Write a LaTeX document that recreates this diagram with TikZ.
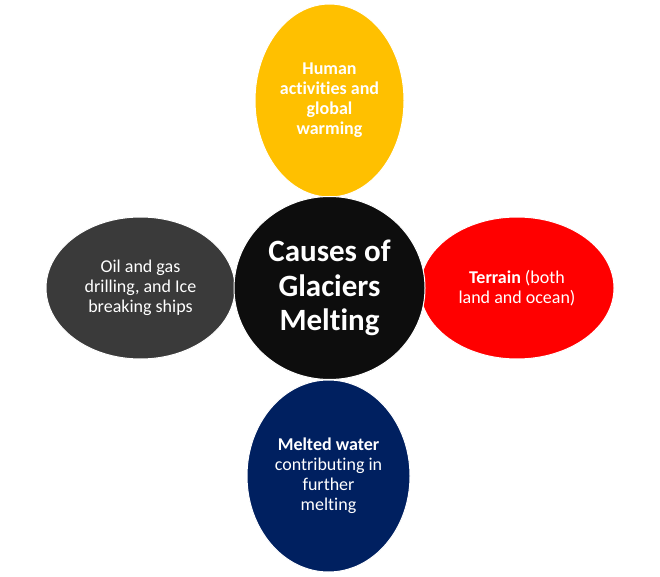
\documentclass[tikz,border=0pt]{standalone}
\usepackage{fontspec}
\setmainfont{Carlito}[Ligatures=NoCommon]
\usetikzlibrary{shapes.geometric}
\definecolor{cyellow}{HTML}{FFC000}
\definecolor{cblack}{HTML}{0D0D0D}
\definecolor{cgray}{HTML}{3A3A3A}
\definecolor{cred}{HTML}{FF0000}
\definecolor{cnavy}{HTML}{002060}
\tikzset{
  blob/.style={ellipse, draw=white, line width=1pt, inner sep=0pt, text=white, align=center},
  small/.style={font=\fontsize{18}{20}\selectfont},
  big/.style={font=\bfseries\fontsize{31}{34.5}\selectfont},
}
\begin{document}
\begin{tikzpicture}[x=1pt,y=-1pt]
\useasboundingbox (0,0) rectangle (660,577);
\node[blob, small, fill=cyellow, minimum width=149pt, minimum height=193pt] (top) at (329.5,100.5)
  {\bfseries Human\\\bfseries activities and\\\bfseries global\\\bfseries warming};
\node[blob, small, fill=cgray, minimum width=189pt, minimum height=142pt] (left) at (140.5,288)
  {Oil and gas\\drilling, and Ice\\breaking ships};
\node[blob, small, fill=cred, minimum width=194pt, minimum height=142pt] (right) at (517,288)
  {\textbf{Terrain} (both\\land and ocean)};
\node[blob, small, fill=cnavy, minimum width=163pt, minimum height=192pt] (bottom) at (328.5,476)
  {\textbf{Melted water}\\contributing in\\further\\melting};
\node[blob, big, fill=cblack, minimum width=191pt, minimum height=183pt] (center) at (329.5,288)
  {Causes of\\Glaciers\\Melting};
\end{tikzpicture}
\end{document}
